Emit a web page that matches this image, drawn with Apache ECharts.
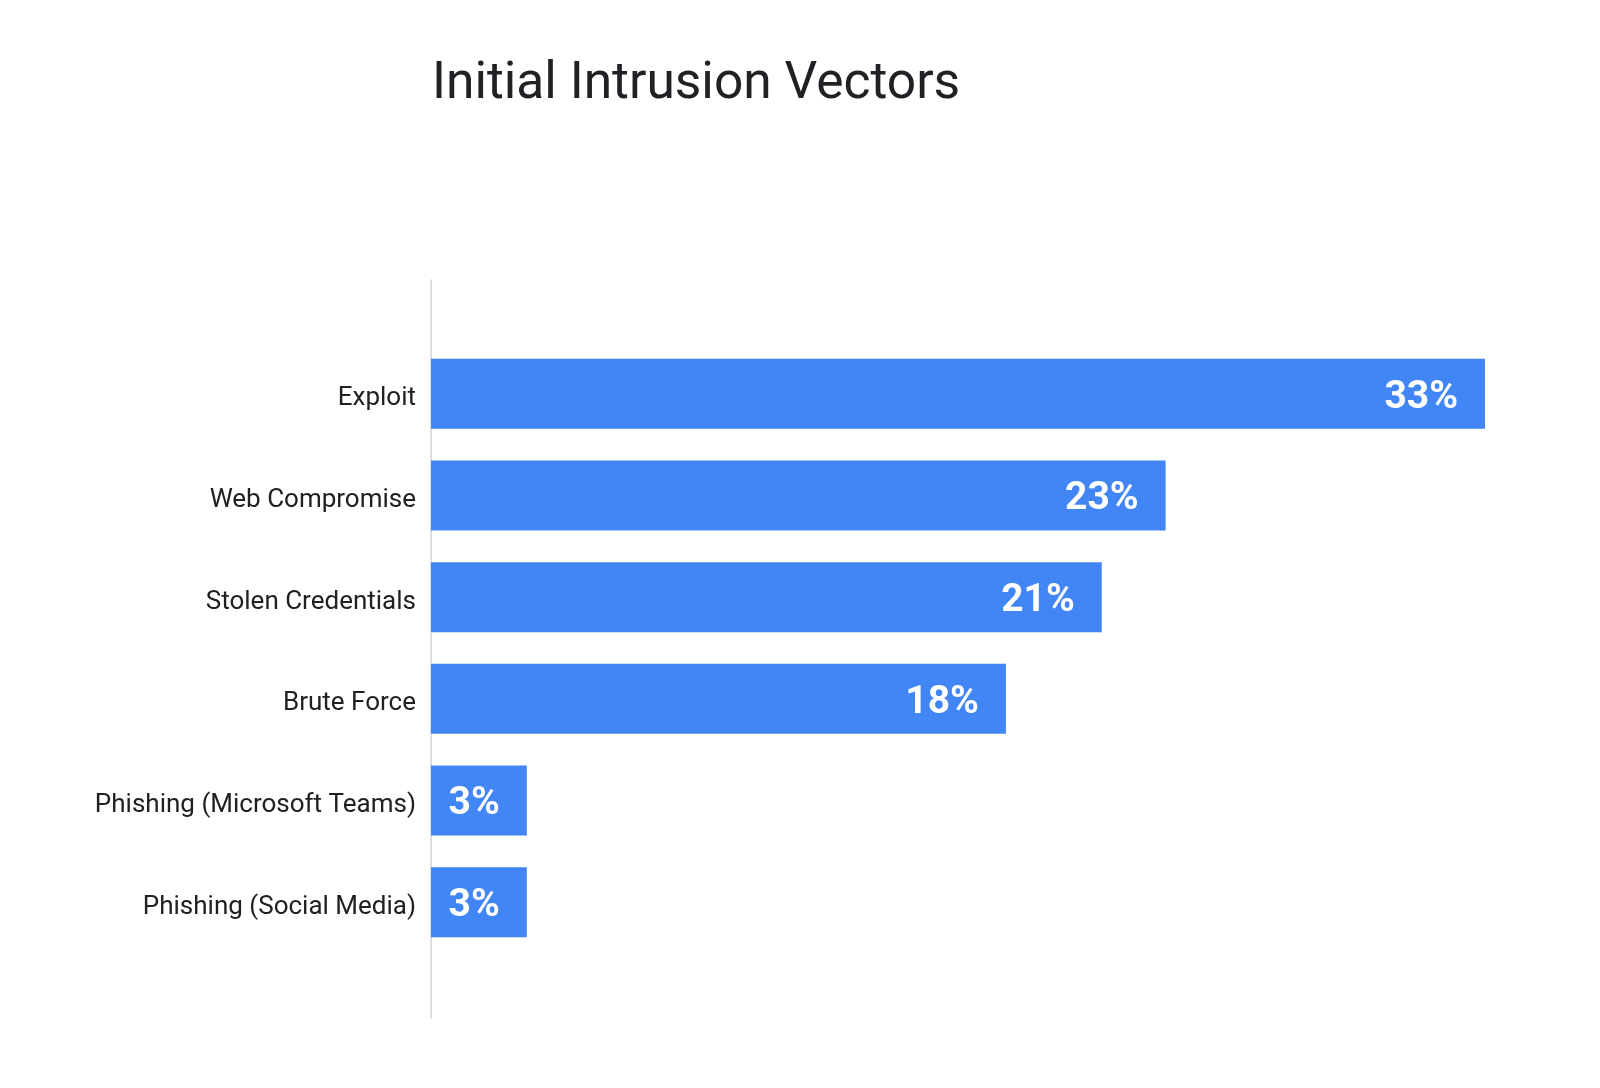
<!DOCTYPE html>
<html>
<head>
<meta charset="utf-8">
<script src="https://cdn.jsdelivr.net/npm/echarts@6/dist/echarts.min.js"></script>
<style>
html,body{margin:0;padding:0;background:#fff;}
#chart{width:1600px;height:1088px;}
</style>
</head>
<body>
<div id="chart"></div>
<script>
const titleText = 'Initial Intrusion Vectors';
const categories = ['Exploit', 'Web Compromise', 'Stolen Credentials', 'Brute Force', 'Phishing (Microsoft Teams)', 'Phishing (Social Media)'];
const values = [33, 23, 21, 18, 3, 3];
const axisMax = 33;

const FONT = 'Roboto';
const chart = echarts.init(document.getElementById('chart'), null, {renderer: 'canvas'});
chart.setOption({
  backgroundColor: '#ffffff',
  animation: false,
  title: {
    text: titleText,
    left: 427,
    top: 54,
    textStyle: {fontFamily: FONT, fontSize: 51.5, fontWeight: 'normal', color: '#202124'}
  },
  grid: [
    {left: 431, right: 115, top: 343, height: 610, containLabel: false},
    {left: 431, right: 115, top: 280, height: 738, containLabel: false}
  ],
  xAxis: [
    {type: 'value', gridIndex: 0, min: 0, max: axisMax, show: false},
    {type: 'value', gridIndex: 1, min: 0, max: 1, show: false}
  ],
  yAxis: [
    {
      type: 'category', gridIndex: 0, data: categories, inverse: true,
      axisLine: {show: false}, axisTick: {show: false}, splitLine: {show: false},
      axisLabel: {margin: 15, fontFamily: FONT, fontSize: 26, color: '#202124', verticalAlign: 'top', lineHeight: 10}
    },
    {
      type: 'value', gridIndex: 1, min: 0, max: 1,
      axisLine: {show: true, onZero: false, lineStyle: {color: '#d0d3d8', width: 1.5}},
      axisTick: {show: false}, axisLabel: {show: false}, splitLine: {show: false}
    }
  ],
  series: [{
    type: 'bar',
    xAxisIndex: 0, yAxisIndex: 0,
    data: values,
    barWidth: 70,
    itemStyle: {color: '#4285F4'},
    label: {
      show: true,
      position: 'insideRight',
      distance: 27,
      offset: [0, 4],
      formatter: '{c}%',
      fontFamily: FONT,
      fontSize: 39,
      fontWeight: 'bold',
      color: '#ffffff'
    }
  }]
});
</script>
</body>
</html>
